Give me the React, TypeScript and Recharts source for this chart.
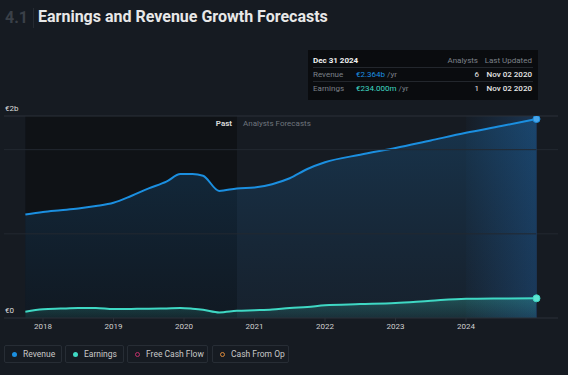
import React from "react";
import {
    ComposedChart,
    Area,
    XAxis,
    YAxis,
    ReferenceArea,
    ReferenceLine,
} from "recharts";

// dates as year fractions (past quarterly, forecasts after Sep 2020)
const DATES = [
    2017.75, 2018.0, 2018.25, 2018.5, 2018.75, 2019.0, 2019.25, 2019.5, 2019.75, 2019.95,
    2020.12, 2020.27, 2020.5, 2020.75, 2021.0, 2021.25, 2021.5, 2021.75, 2022.0, 2022.5,
    2023.0, 2023.5, 2024.0, 2024.5, 2025.0,
];

// € billions
const REVENUE = [
    1.23, 1.26, 1.28, 1.30, 1.33, 1.37, 1.45, 1.54, 1.62, 1.71,
    1.71, 1.69, 1.51, 1.54, 1.55, 1.59, 1.66, 1.77, 1.85, 1.94,
    2.02, 2.11, 2.20, 2.28, 2.364,
];

const EARNINGS = [
    0.075, 0.105, 0.112, 0.118, 0.118, 0.106, 0.108, 0.11, 0.114, 0.118,
    0.11, 0.098, 0.066, 0.085, 0.092, 0.10, 0.12, 0.13, 0.152, 0.165,
    0.178, 0.205, 0.228, 0.232, 0.234,
];

const YEAR_TICKS = [2018, 2019, 2020, 2021, 2022, 2023, 2024];
const Y_TICKS = [0, 2.4];
const Y_LABELS = ["€0", "€2b"];

const PAST_END = 2020.75;

const LEGEND = [
    { name: "Revenue", color: "#1b8fe0", filled: true, width: 58 },
    { name: "Earnings", color: "#3fd8c4", filled: true, width: 59 },
    { name: "Free Cash Flow", color: "#c0306a", filled: false, width: 81 },
    { name: "Cash From Op", color: "#d9883a", filled: false, width: 77 },
];

const data = DATES.map((t, i) => ({ t, revenue: REVENUE[i], earnings: EARNINGS[i] }));

const FONT = "Roboto, 'Noto Sans', sans-serif";
const BG = "#161b22";

const makeEndDot = (fill: string, stroke: string) => (props: any) => {
    const { cx, cy, index } = props;
    if (index !== DATES.length - 1) return <g key={`d-${index}`} />;
    return <circle key={`d-${index}`} cx={cx} cy={cy} r={3.5} fill={fill} stroke={stroke} strokeWidth={1} />;
};

const YTick = (props: any) => {
    const { y, payload, index } = props;
    return (
        <text x={5} y={y - 5} fill="#dcdcdc" fontSize={8} fontFamily={FONT}>
            {Y_LABELS[index] ?? payload.value}
        </text>
    );
};

const App: React.FC = () => {
    return (
        <div style={{ position: "absolute", top: 0, left: 0, width: 568, height: 375, background: BG, fontFamily: FONT, overflow: "hidden" }}>
            {/* title */}
            <div style={{ position: "absolute", left: 5, top: 8, fontSize: 16, fontWeight: 700, color: "#3a4048" }}>4.1</div>
            <div style={{ position: "absolute", left: 33, top: 8, width: 1, height: 20, background: "#262b32" }} />
            <div style={{ position: "absolute", left: 38, top: 7, fontSize: 16, fontWeight: 700, color: "#e8e8e8" }}>
                Earnings and Revenue Growth Forecasts
            </div>

            <div style={{ position: "absolute", left: 0, top: 0 }}>
                <ComposedChart width={568} height={340} data={data} margin={{ top: 116, right: 10, bottom: 0, left: 4 }}>
                    <defs>
                        <linearGradient id="revFill" x1="0" y1="0" x2="0" y2="1">
                            <stop offset="0%" stopColor="#1b6fb0" stopOpacity={0.3} />
                            <stop offset="100%" stopColor="#1b4f80" stopOpacity={0.12} />
                        </linearGradient>
                        <linearGradient id="earnFill" x1="0" y1="0" x2="0" y2="1">
                            <stop offset="0%" stopColor="#3fd8c4" stopOpacity={0.25} />
                            <stop offset="100%" stopColor="#3fd8c4" stopOpacity={0.08} />
                        </linearGradient>
                        <linearGradient id="lastYear" x1="0" y1="0" x2="1" y2="0">
                            <stop offset="0%" stopColor="#1d4a7a" stopOpacity={0.05} />
                            <stop offset="100%" stopColor="#1d4a7a" stopOpacity={0.55} />
                        </linearGradient>
                    </defs>
                    <XAxis
                        dataKey="t"
                        type="number"
                        domain={[2017.447, 2025.305]}
                        ticks={YEAR_TICKS}
                        height={22}
                        axisLine={{ stroke: "#2a3038" }}
                        tickLine={{ stroke: "#2a3038" }}
                        tickSize={4}
                        tickMargin={1}
                        tick={{ fill: "#d0d0d0", fontSize: 8, fontFamily: FONT }}
                        allowDataOverflow
                    />
                    <YAxis
                        type="number"
                        domain={[0, 2.4]}
                        ticks={Y_TICKS}
                        mirror
                        axisLine={false}
                        tickLine={false}
                        tick={YTick}
                        allowDataOverflow
                    />
                    <ReferenceArea x1={DATES[0]} x2={PAST_END} y1={0} y2={2.4} fill="#0f1216" fillOpacity={1} stroke="none" ifOverflow="hidden" />
                    <ReferenceArea x1={2024} x2={2025} y1={0} y2={2.4} fill="url(#lastYear)" fillOpacity={1} stroke="none" />
                    <ReferenceLine y={1} stroke="#232931" />
                    <ReferenceLine y={2} stroke="#232931" />
                    <ReferenceLine y={2.4} stroke="#2a3038" />
                    <ReferenceLine x={2025} stroke="#1c3552" />
                    <Area
                        type="monotone"
                        dataKey="revenue"
                        stroke="#1b8fe0"
                        strokeWidth={2}
                        fill="url(#revFill)"
                        fillOpacity={1}
                        dot={makeEndDot("#4aa6ea", "#1b8fe0")}
                        activeDot={false}
                        isAnimationActive={false}
                    />
                    <Area
                        type="monotone"
                        dataKey="earnings"
                        stroke="#3fd8c4"
                        strokeWidth={2}
                        fill="url(#earnFill)"
                        fillOpacity={1}
                        dot={makeEndDot("#5ee5d2", "#3fd8c4")}
                        activeDot={false}
                        isAnimationActive={false}
                    />
                </ComposedChart>
            </div>

            {/* past / forecast labels */}
            <div style={{ position: "absolute", left: 196, top: 119, width: 36, textAlign: "right", fontSize: 8, fontWeight: 700, color: "#d8d8d8" }}>Past</div>
            <div style={{ position: "absolute", left: 243, top: 119, fontSize: 8, color: "#6f757d" }}>Analysts Forecasts</div>

            {/* tooltip box */}
            <div style={{ position: "absolute", left: 308, top: 50, width: 230, height: 50, background: "#0a0c0f", fontSize: 8, color: "#7c8189" }}>
                <div style={{ position: "absolute", left: 5, top: 6, color: "#f0f0f0", fontWeight: 700 }}>Dec 31 2024</div>
                <div style={{ position: "absolute", right: 60, top: 6 }}>Analysts</div>
                <div style={{ position: "absolute", right: 6, top: 6 }}>Last Updated</div>
                <div style={{ position: "absolute", left: 5, right: 5, top: 17, height: 1, background: "#23272d" }} />
                <div style={{ position: "absolute", left: 5, top: 20 }}>Revenue</div>
                <div style={{ position: "absolute", left: 48, top: 20 }}>
                    <span style={{ color: "#1b8fe0" }}>€2.364b</span> /yr
                </div>
                <div style={{ position: "absolute", right: 59, top: 20, color: "#e8e8e8" }}>6</div>
                <div style={{ position: "absolute", right: 6, top: 20, color: "#e8e8e8", fontWeight: 500 }}>Nov 02 2020</div>
                <div style={{ position: "absolute", left: 5, right: 5, top: 31, height: 1, background: "#23272d" }} />
                <div style={{ position: "absolute", left: 5, top: 34 }}>Earnings</div>
                <div style={{ position: "absolute", left: 48, top: 34 }}>
                    <span style={{ color: "#3fd8c4" }}>€234.000m</span> /yr
                </div>
                <div style={{ position: "absolute", right: 59, top: 34, color: "#e8e8e8" }}>1</div>
                <div style={{ position: "absolute", right: 6, top: 34, color: "#e8e8e8", fontWeight: 500 }}>Nov 02 2020</div>
            </div>

            {/* legend */}
            <div style={{ position: "absolute", left: 4, top: 345, display: "flex", gap: 3 }}>
                {LEGEND.map((item, index) => (
                    <div
                        key={`legend-${index}`}
                        style={{
                            width: item.width,
                            height: 18,
                            boxSizing: "border-box",
                            border: "1px solid #272d35",
                            borderRadius: 2,
                            display: "flex",
                            alignItems: "center",
                            paddingLeft: 7,
                            fontSize: 8.5,
                            color: "#c8c8c8",
                            marginLeft: index === 3 ? 1 : 0,
                        }}
                    >
                        <div
                            style={{
                                width: 5,
                                height: 5,
                                borderRadius: "50%",
                                boxSizing: "border-box",
                                background: item.filled ? item.color : "transparent",
                                border: item.filled ? "none" : `1px solid ${item.color}`,
                                marginRight: 6,
                            }}
                        />
                        <span>{item.name}</span>
                    </div>
                ))}
            </div>
        </div>
    );
};

export default App;
